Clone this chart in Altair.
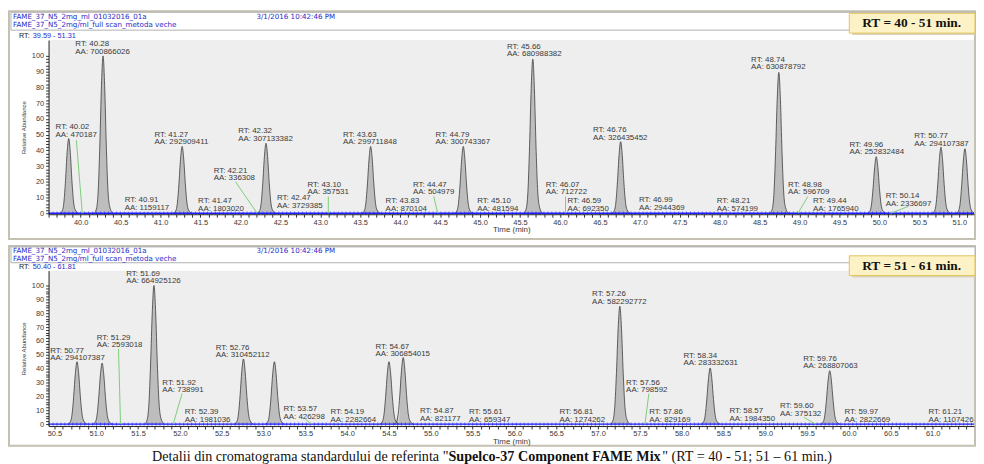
import math
import altair as alt
import pandas as pd

# ---------------- values ----------------
# upper panel: RT 40 - 51 min
TOP_PEAK_RT = [39.85, 40.28, 41.27, 42.32, 43.63, 44.79, 45.66, 46.76, 48.74, 49.96, 50.77, 51.07]
TOP_PEAK_H = [47.5, 100.0, 42.5, 44.5, 42.5, 42.5, 98.0, 45.5, 89.5, 36.0, 42.0, 41.0]
TOP_LBL_RT = ["40.02", "40.28", "40.91", "41.27", "41.47", "42.21", "42.32", "42.47", "43.10", "43.63",
              "43.83", "44.47", "44.79", "45.10", "45.66", "46.07", "46.59", "46.76", "46.99", "48.21",
              "48.74", "48.98", "49.44", "49.96", "50.14", "50.77"]
TOP_LBL_AA = ["470187", "700866026", "1159117", "292909411", "1803020", "336308", "307133382", "3729385",
              "357531", "299711848", "870104", "504979", "300743367", "481594", "680988382", "712722",
              "692350", "326435452", "2944369", "574199", "630878792", "596709", "1765940", "252832484",
              "2336697", "294107387"]
TOP_LEAD_RT = ["40.02", "42.21", "43.10", "44.47", "46.07", "48.98", "50.14"]

# lower panel: RT 51 - 61 min
BOT_PEAK_RT = [50.77, 51.07, 51.69, 52.76, 53.13, 54.50, 54.67, 57.26, 58.34, 59.77]
BOT_PEAK_H = [45.0, 44.0, 100.0, 47.0, 45.0, 45.0, 48.0, 85.0, 40.5, 38.5]
BOT_LBL_RT = ["50.77", "51.29", "51.69", "51.92", "52.39", "52.76", "53.57", "54.19", "54.67", "54.87",
              "55.61", "56.81", "57.26", "57.56", "57.86", "58.34", "58.57", "59.60", "59.76", "59.97", "61.21"]
BOT_LBL_AA = ["294107387", "2593018", "664925126", "738991", "1981036", "310452112", "426298", "2282664",
              "306854015", "821177", "659347", "1274262", "582292772", "798592", "829169", "283332631",
              "1984350", "375132", "268807063", "2822669", "1107426"]
BOT_LEAD_RT = ["51.29", "51.92", "53.57", "57.56", "59.60"]

# peak shape (offset in min, fraction of apex height)
PEAK_PROFILE_DT = [-0.11, -0.08, -0.06, -0.04, -0.02, 0.0, 0.02, 0.04, 0.06, 0.08, 0.12]
PEAK_PROFILE_REL = [0.0, 0.035, 0.15, 0.44, 0.81, 1.0, 0.81, 0.44, 0.16, 0.05, 0.0]

# ---------------- annotation layout ----------------
TOP_LBL_DX = [-27, -28, -29, -28, 0, -44, -28, -1, -21, -28, -1, -25, -28, -11, -26, -20, -40, -28, 0, -20,
              -28, -10, -22, -27, -5, -27]
TOP_LBL_Y = [54.7, 107.5, 8.2, 49.7, 7.5, 27, 52.2, 9.4, 18.2, 49.7, 7.5, 18.2, 49.7, 7.5, 105.7, 18.2, 7.5,
             52.8, 8.2, 7.5, 97.5, 18.2, 7.5, 43.4, 10.7, 49]
TOP_LEAD_DX = [-6, -22, 0, -4, 0, 10, 18]
TOP_LEAD_Y = [46.5, 20.1, 10.7, 10.7, 10.7, 10.7, 4.4]

BOT_LBL_DX = [-27, -24, -28, -11, -28, -28, -28, -33, -28, 0, -13, -23, -28, -19, -21, -27, 0, -36, -26, -2, -22]
BOT_LBL_Y = [52.9, 62.1, 108.6, 30, 8.6, 55, 10.7, 8.6, 55.7, 9.3, 8.6, 8.6, 93.6, 30, 8.6, 49.3, 9.3, 12.9,
             47.1, 8.6, 8.6]
BOT_LEAD_DX = [-2, 9, -6, 4, -12]
BOT_LEAD_Y = [54.3, 22.1, 3.5, 22.0, 5.0]

FONT = "Liberation Sans"
HFONT = "DejaVu Sans"
SERIF = "Liberation Serif"
W = 935
H1, H2 = 176, 157
TOP_XDOM = [39.598, 51.184]
BOT_XDOM = [50.43, 61.495]
TOP_YDOM = [-0.6, 110.1]
BOT_YDOM = [-1.4, 110.7]
TXT = "#3a3a3a"
BLUE_TXT = "#2a2ac8"


def peaks_df(rts, hs):
    rows = []
    for i, (rt, h) in enumerate(zip(rts, hs)):
        for dt, rel in zip(PEAK_PROFILE_DT, PEAK_PROFILE_REL):
            rows.append({"pk": i, "t": round(rt + dt, 4), "v": h * rel})
    return pd.DataFrame(rows)


def panel(H, xdom, ydom, peak_rt, peak_h, lbl_rt, lbl_aa, lbl_dx, lbl_y, lead_rt, lead_dx, lead_y,
          frame_y, head_y, head_lines, range_txt, range_y, box_y, box_txt, caption=False):
    ppm = W / (xdom[1] - xdom[0])
    xs = alt.Scale(domain=xdom, nice=False, zero=False)
    ys = alt.Scale(domain=ydom, nice=False, zero=False)
    xt = [round(v / 10, 1) for v in range(int(math.ceil(xdom[0] * 10)), int(math.floor(xdom[1] * 10)) + 1)]
    xaxis = alt.Axis(values=xt, labelExpr="abs(datum.value*2 - round(datum.value*2)) < 0.01 ? format(datum.value, '.1f') : ''",
                     title="Time (min)", titleFont=FONT, titleFontSize=8, titleFontWeight="normal",
                     titleColor=TXT, titlePadding=0, labelFont=FONT, labelFontSize=7.5, labelColor=TXT,
                     labelPadding=1, tickSize=3, tickColor="#333333", domainColor="#222222",
                     grid=False, labelOverlap=False, labelFlush=False, zindex=2)
    yaxis = alt.Axis(values=list(range(0, 101, 2)), labelExpr="datum.value % 10 == 0 ? datum.value : ''",
                     title="Relative Abundance", titleFont=FONT, titleFontSize=6, titleFontWeight="normal",
                     titleColor=TXT, titlePadding=5, labelFont=FONT, labelFontSize=7.5, labelColor=TXT,
                     labelPadding=2, tickSize=3, tickColor="#333333", domainColor="#222222",
                     grid=False, labelOverlap=False, zindex=2)

    def X(f):
        return alt.X(f, type="quantitative", scale=xs, axis=xaxis)

    def Y(f):
        return alt.Y(f, type="quantitative", scale=ys, axis=yaxis)

    base = alt.Chart(pd.DataFrame({"k": [0]}))
    layers = []
    layers.append(base.mark_rect(fill="white", stroke="#c4c0b2", strokeWidth=2).encode(
        x=alt.value(-40), x2=alt.value(W + 1), y=alt.value(frame_y[0]), y2=alt.value(frame_y[1])))
    layers.append(base.mark_rect(fill="white", stroke="#b0b0b0", strokeWidth=1).encode(
        x=alt.value(-38), x2=alt.value(W + 1), y=alt.value(head_y[0]), y2=alt.value(head_y[1])))
    layers.append(base.mark_rect(fill="#eeeeee").encode(
        x=alt.value(0), x2=alt.value(W), y=alt.value(0), y2=alt.value(H)))

    pk = peaks_df(peak_rt, peak_h)
    layers.append(alt.Chart(pk).mark_area(color="#bdbdbd", interpolate="monotone", clip=True).encode(
        x=X("t"), y=Y("v"), detail="pk:N"))
    layers.append(alt.Chart(pk).mark_line(color="#3c3c3c", strokeWidth=0.8, interpolate="monotone", clip=True).encode(
        x=X("t"), y=Y("v"), detail="pk:N"))

    bdf = pd.DataFrame({"t": [xdom[0]], "t2": [xdom[1]], "v": [0.0]})
    layers.append(alt.Chart(bdf).mark_rule(color="#1c1cff", strokeWidth=1.4).encode(x=X("t"), x2="t2:Q", y=Y("v")))
    layers.append(alt.Chart(bdf).mark_rule(color="#1c1cff", strokeWidth=3.5, strokeDash=[1, 3], opacity=0.55).encode(
        x=X("t"), x2="t2:Q", y=Y("v")))

    lead = pd.DataFrame({
        "rt": [float(r) for r in lead_rt],
        "fx": [float(r) + d / ppm for r, d in zip(lead_rt, lead_dx)],
        "fy": lead_y,
        "z": [0.0] * len(lead_rt),
    })
    layers.append(alt.Chart(lead).mark_rule(color="#7ccc7c", strokeWidth=1).encode(
        x=X("fx"), y=Y("fy"), x2="rt:Q", y2="z:Q"))

    lab = pd.DataFrame({
        "lx": [float(r) + d / ppm for r, d in zip(lbl_rt, lbl_dx)],
        "ly": lbl_y,
        "trt": ["RT: " + r for r in lbl_rt],
        "taa": ["AA: " + a for a in lbl_aa],
    })
    layers.append(alt.Chart(lab).mark_text(align="left", baseline="middle", font=FONT, fontSize=8, color=TXT).encode(
        x=X("lx"), y=Y("ly"), text="trt:N"))
    layers.append(alt.Chart(lab).mark_text(align="left", baseline="middle", font=FONT, fontSize=8, color=TXT, dy=7.5).encode(
        x=X("lx"), y=Y("ly"), text="taa:N"))

    # header texts
    layers.append(base.mark_text(align="left", baseline="middle", font=HFONT, fontSize=7.2, color=BLUE_TXT).encode(
        x=alt.value(-36), y=alt.value(head_lines[0]), text=alt.value("FAME_37_N5_2mg_ml_01032016_01a")))
    layers.append(base.mark_text(align="left", baseline="middle", font=HFONT, fontSize=7.2, color=BLUE_TXT).encode(
        x=alt.value(-36), y=alt.value(head_lines[1]), text=alt.value("FAME_37_N5_2mg/ml_full scan_metoda veche")))
    layers.append(base.mark_text(align="left", baseline="middle", font=HFONT, fontSize=7.2, color=BLUE_TXT).encode(
        x=alt.value(210), y=alt.value(head_lines[0]), text=alt.value("3/1/2016 10:42:46 PM")))
    layers.append(base.mark_text(align="left", baseline="middle", font=FONT, fontSize=7.4, color="#222222").encode(
        x=alt.value(-30), y=alt.value(range_y), text=alt.value("RT:")))
    layers.append(base.mark_text(align="left", baseline="middle", font=FONT, fontSize=7.4, color=BLUE_TXT).encode(
        x=alt.value(-16), y=alt.value(range_y), text=alt.value(range_txt)))

    # yellow range box
    layers.append(base.mark_rect(fill="#d9d3bd").encode(
        x=alt.value(812), x2=alt.value(W + 1), y=alt.value(box_y + 2), y2=alt.value(box_y + 22)))
    layers.append(base.mark_rect(fill="#fdf2c6", stroke="#e3c35a", strokeWidth=1).encode(
        x=alt.value(809), x2=alt.value(W + 1), y=alt.value(box_y), y2=alt.value(box_y + 20)))
    layers.append(base.mark_text(align="center", baseline="middle", font=SERIF, fontSize=13.5, fontWeight="bold",
                                 color="#111111").encode(
        x=alt.value(872), y=alt.value(box_y + 10), text=alt.value(box_txt)))

    if caption:
        cy = 188
        layers.append(base.mark_text(align="right", baseline="middle", font=SERIF, fontSize=14.3, color="#111111").encode(
            x=alt.value(404), y=alt.value(cy), text=alt.value('Detalii din cromatograma standardului de referinta "')))
        layers.append(base.mark_text(align="left", baseline="middle", font=SERIF, fontSize=14.3, fontWeight="bold",
                                     color="#111111").encode(
            x=alt.value(404), y=alt.value(cy), text=alt.value("Supelco-37 Component FAME Mix")))
        layers.append(base.mark_text(align="left", baseline="middle", font=SERIF, fontSize=14.3, color="#111111").encode(
            x=alt.value(620), y=alt.value(cy), text=alt.value('" (RT = 40 - 51; 51 \u2013 61 min.)')))

    return alt.layer(*layers).properties(width=W, height=H)


top = panel(H1, TOP_XDOM, TOP_YDOM, TOP_PEAK_RT, TOP_PEAK_H, TOP_LBL_RT, TOP_LBL_AA, TOP_LBL_DX, TOP_LBL_Y,
            TOP_LEAD_RT, TOP_LEAD_DX, TOP_LEAD_Y,
            frame_y=(-29, H1 + 25), head_y=(-28, -10), head_lines=(-23.5, -15),
            range_txt="39.59 - 51.31", range_y=-4.5, box_y=-27, box_txt="RT = 40 - 51 min.")
bot = panel(H2, BOT_XDOM, BOT_YDOM, BOT_PEAK_RT, BOT_PEAK_H, BOT_LBL_RT, BOT_LBL_AA, BOT_LBL_DX, BOT_LBL_Y,
            BOT_LEAD_RT, BOT_LEAD_DX, BOT_LEAD_Y,
            frame_y=(-25, H2 + 20), head_y=(-24, -8), head_lines=(-19.5, -11.5),
            range_txt="50.40 - 61.81", range_y=-3.5, box_y=-15, box_txt="RT = 51 - 61 min.", caption=True)

chart = alt.vconcat(top, bot, spacing=5).properties(padding=0, background="white").configure_view(strokeWidth=0)
chart.save("out.html", embed_options={"renderer": "svg", "actions": False})
